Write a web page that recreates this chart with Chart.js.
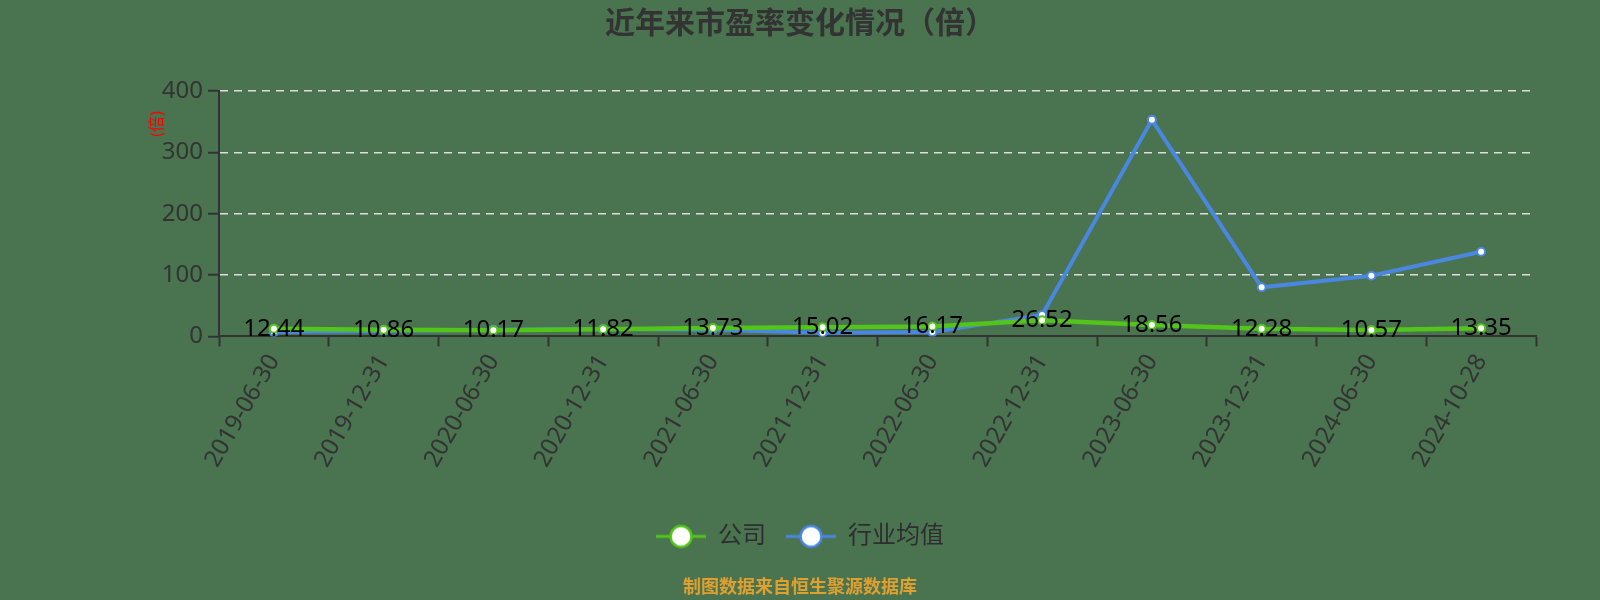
<!DOCTYPE html>
<html>
<head>
<meta charset="utf-8">
<script src="https://cdn.jsdelivr.net/npm/chart.js@4.4.0/dist/chart.umd.min.js"></script>
<style>
    html, body { margin: 0; padding: 0; background: #4a7350; }
    #wrap { width: 1600px; height: 600px; position: relative; }
</style>
</head>
<body>
<div id="wrap"><canvas id="peChart"></canvas></div>
<script>
// Data
const periods = ['2019-06-30', '2019-12-31', '2020-06-30', '2020-12-31', '2021-06-30', '2021-12-31',
    '2022-06-30', '2022-12-31', '2023-06-30', '2023-12-31', '2024-06-30', '2024-10-28'];
const companyPE = [12.44, 10.86, 10.17, 11.82, 13.73, 15.02, 16.17, 26.52, 18.56, 12.28, 10.57, 13.35];
const industryPE = [7, 9, 11, 12, 11, 6, 7, 35, 353, 80, 99, 138];
const seriesNames = ['公司', '行业均值'];
const yTicks = [0, 100, 200, 300, 400];

const GREEN = '#52c41a';
const BLUE = '#4a87e0';
const FONT = '"Noto Sans", "Noto Sans CJK SC", sans-serif';

// legend marker: short line with a hollow circle on it
function legendMarker(color) {
    const c = document.createElement('canvas');
    c.width = 50;
    c.height = 26;
    const g = c.getContext('2d');
    g.strokeStyle = color;
    g.lineWidth = 3;
    g.beginPath();
    g.moveTo(0, 13);
    g.lineTo(50, 13);
    g.stroke();
    g.beginPath();
    g.arc(25, 13, 10.5, 0, Math.PI * 2);
    g.fillStyle = '#fff';
    g.fill();
    g.lineWidth = 2.5;
    g.stroke();
    return c;
}
const markers = [legendMarker(GREEN), legendMarker(BLUE)];

// value labels for the company series
const valueLabels = {
    id: 'valueLabels',
    afterDatasetsDraw(chart) {
        const meta = chart.getDatasetMeta(0);
        const ctx = chart.ctx;
        ctx.save();
        ctx.font = '24px ' + FONT;
        ctx.fillStyle = '#000';
        ctx.textAlign = 'center';
        ctx.textBaseline = 'alphabetic';
        meta.data.forEach((pt, i) => {
            ctx.fillText(companyPE[i].toFixed(2), pt.x, pt.y + 7);
        });
        ctx.restore();
    }
};

// small red unit label beside the y axis
const unitLabel = {
    id: 'unitLabel',
    afterDraw(chart) {
        const ctx = chart.ctx;
        ctx.save();
        ctx.translate(157, 124);
        ctx.rotate(-Math.PI / 2);
        ctx.font = '16px ' + FONT;
        ctx.fillStyle = '#ff0000';
        ctx.textAlign = 'center';
        ctx.textBaseline = 'middle';
        ctx.fillText('(倍)', 0, 0);
        ctx.restore();
    }
};

const ctx = document.getElementById('peChart').getContext('2d');

new Chart(ctx, {
    type: 'line',
    data: {
        labels: periods,
        datasets: [{
            label: seriesNames[0],
            data: companyPE,
            borderColor: GREEN,
            backgroundColor: '#fff',
            borderWidth: 4.5,
            pointRadius: 4,
            pointBorderWidth: 2,
            pointBackgroundColor: '#fff',
            pointBorderColor: GREEN,
            tension: 0
        }, {
            label: seriesNames[1],
            data: industryPE,
            borderColor: BLUE,
            backgroundColor: '#fff',
            borderWidth: 4,
            pointRadius: 4,
            pointBorderWidth: 2,
            pointBackgroundColor: '#fff',
            pointBorderColor: BLUE,
            tension: 0
        }]
    },
    options: {
        responsive: true,
        maintainAspectRatio: false,
        animation: false,
        layout: { padding: { left: 64, right: 64, top: 0, bottom: 0 } },
        scales: {
            x: {
                offset: true,
                grid: {
                    offset: true,
                    drawOnChartArea: false,
                    drawTicks: true,
                    tickLength: 10,
                    tickColor: '#333',
                    tickWidth: 2
                },
                border: { color: '#333', width: 2 },
                ticks: {
                    autoSkip: false,
                    minRotation: 60,
                    maxRotation: 60,
                    padding: 3,
                    color: '#333',
                    font: { family: FONT, size: 24 }
                },
                afterFit(scale) { scale.height = 168; }
            },
            y: {
                min: 0,
                max: 400,
                afterBuildTicks(scale) { scale.ticks = yTicks.map(v => ({ value: v })); },
                grid: {
                    color: c => (c.tick && c.tick.value === 0) ? 'rgba(0,0,0,0)' : '#dddddd',
                    lineWidth: 1.5,
                    drawTicks: true,
                    tickLength: 11,
                    tickColor: '#333',
                    tickWidth: 2
                },
                border: { color: '#333', width: 2, dash: [8, 6] },
                ticks: {
                    padding: 5,
                    color: '#333',
                    font: { family: FONT, size: 24 }
                },
                afterFit(scale) { scale.width = 155; }
            }
        },
        plugins: {
            title: {
                display: true,
                text: '近年来市盈率变化情况（倍）',
                color: '#333',
                font: { family: FONT, size: 30, weight: 'bold' },
                padding: { top: 6, bottom: 49 }
            },
            subtitle: {
                display: true,
                position: 'bottom',
                text: '制图数据来自恒生聚源数据库',
                color: '#e0a030',
                font: { family: FONT, size: 18, weight: 'bold' },
                padding: { top: 19, bottom: 1 }
            },
            legend: {
                position: 'bottom',
                labels: {
                    usePointStyle: true,
                    pointStyleWidth: 50,
                    padding: 20,
                    color: '#2e2e2e',
                    font: { family: FONT, size: 24 },
                    generateLabels(chart) {
                        const items = Chart.defaults.plugins.legend.labels.generateLabels(chart);
                        items.forEach((it, i) => { it.pointStyle = markers[i]; });
                        return items;
                    }
                }
            },
            tooltip: { enabled: false }
        }
    },
    plugins: [valueLabels, unitLabel]
});
</script>
</body>
</html>
